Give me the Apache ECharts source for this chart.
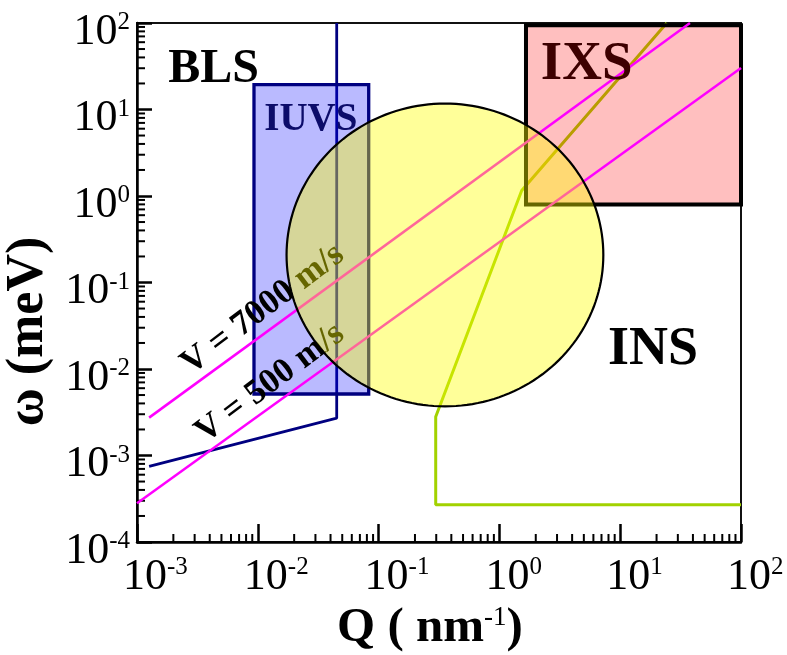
<!DOCTYPE html>
<html>
<head>
<meta charset="utf-8">
<script src="https://cdn.jsdelivr.net/npm/echarts@6/dist/echarts.min.js"></script>
<style>
  html, body { margin: 0; padding: 0; background: #fff; }
  #chart { width: 787px; height: 655px; }
</style>
</head>
<body>
<div id="chart"></div>
<script>
// axis ranges: Q in nm^-1, omega in meV
const qRange = [0.001, 100]
const wRange = [0.0001, 100]
const minorSteps = [2, 3, 4, 5, 6, 7, 8, 9]
const qDecades = [0.001, 0.01, 0.1, 1, 10]
const wDecades = [0.0001, 0.001, 0.01, 0.1, 1, 10]

// boundaries, [Q, omega]
const blsEdge = [[0.045, 100], [0.045, 0.0027], [0.00126, 0.00075]]
const insEdge = [[100, 0.00027], [0.297, 0.00027], [0.297, 0.0028], [1.53, 1.16], [24.3, 100]]
const v7000 = [[0.00126, 0.00274], [37.8, 100]]
const v500 = [[0.001, 0.00028], [100, 30.2]]

// regions [Qmin, Qmax, wMin, wMax]
const iuvsBox = [0.0093, 0.0828, 0.00514, 19.4]
const ixsBox = [1.66, 100, 0.796, 94]
const insDisc = [0.0173, 7.25, 0.0037, 11.7]

// annotation anchors [Q, omega]
const regionNames = ['BLS', 'IUVS', 'IXS', 'INS']
const regionAt = [[0.0043, 29.2], [0.0275, 7.6], [5.28, 33.3], [18.7, 0.0164]]
const speedNames = ['V = 7000 m/s', 'V = 500 m/s']
const speedAt = [[0.011, 0.049], [0.0126, 0.00684]]

const serif = '"Liberation Serif", "Times New Roman", serif'
const regionStyle = [
  { size: 48, color: '#000' },
  { size: 39, color: '#0c0c6a' },
  { size: 55, color: '#3d0000' },
  { size: 54, color: '#000' }
]

let qMinor = []
qDecades.forEach(d => minorSteps.forEach(k => qMinor.push(d * k)))
let wMinor = []
wDecades.forEach(d => minorSteps.forEach(k => wMinor.push(d * k)))

function expOf (v) {
  return String(Math.round(Math.log10(v)))
}

const tickRich = {
  h: { fontSize: 25, fontFamily: serif, color: 'transparent', lineHeight: 20, verticalAlign: 'top' },
  b: { fontSize: 44, fontFamily: serif, color: '#000', lineHeight: 44 },
  s: { fontSize: 25, fontFamily: serif, color: '#000', lineHeight: 20, verticalAlign: 'top' }
}

function boxSeries (box, z, fill, stroke, width) {
  return {
    type: 'custom',
    z: z,
    silent: true,
    encode: { x: [0, 1], y: [2, 3] },
    data: [box],
    renderItem (params, api) {
      const a = api.coord([api.value(0), api.value(3)])
      const b = api.coord([api.value(1), api.value(2)])
      return {
        type: 'rect',
        shape: { x: a[0], y: a[1], width: b[0] - a[0], height: b[1] - a[1] },
        style: { fill: fill, stroke: stroke, lineWidth: width }
      }
    }
  }
}

function lineSeries (data, color, width, z) {
  return {
    type: 'line',
    z: z,
    silent: true,
    showSymbol: false,
    symbol: 'none',
    data: data,
    lineStyle: { color: color, width: width }
  }
}

function textSeries (anchors, z, build) {
  return {
    type: 'custom',
    z: z,
    silent: true,
    clip: false,
    data: anchors,
    renderItem (params, api) {
      const p = api.coord([api.value(0), api.value(1)])
      return build(params.dataIndex, p)
    }
  }
}

const chart = echarts.init(document.getElementById('chart'))

chart.setOption({
  animation: false,
  grid: {
    left: 137, right: 46, top: 23, bottom: 113,
    outerBoundsMode: 'none',
    show: true, borderColor: '#111', borderWidth: 2
  },
  xAxis: {
    type: 'log', logBase: 10, min: qRange[0], max: qRange[1], splitNumber: 5,
    axisLine: { lineStyle: { color: '#000', width: 2.5 } },
    axisTick: { inside: true, length: 18, lineStyle: { color: '#000', width: 2.5 } },
    splitLine: { show: false },
    axisLabel: {
      margin: 13, showMinLabel: true, showMaxLabel: true,
      padding: [0, 0, 0, 16],
      formatter: v => '{h|' + expOf(v) + '}{b|10}{s|' + expOf(v) + '}',
      rich: tickRich
    },
    name: '{b|Q ( nm}{s|-1}{b|)}',
    nameLocation: 'middle', nameGap: 58,
    nameTextStyle: {
      padding: [0, 18, 0, 0],
      rich: {
        b: { fontSize: 49, fontWeight: 'bold', fontFamily: serif, color: '#000', lineHeight: 48 },
        s: { fontSize: 27, fontFamily: serif, color: '#000', lineHeight: 22, verticalAlign: 'top' }
      }
    }
  },
  yAxis: {
    type: 'log', logBase: 10, min: wRange[0], max: wRange[1], splitNumber: 6,
    axisLine: { lineStyle: { color: '#000', width: 2.5 } },
    axisTick: { inside: true, length: 15, lineStyle: { color: '#000', width: 2.5 } },
    splitLine: { show: false },
    axisLabel: {
      margin: 7, showMinLabel: true, showMaxLabel: true,
      padding: [18, 0, 0, 0],
      formatter: v => '{b|10}{s|' + expOf(v) + '}',
      rich: tickRich
    },
    name: 'ω (meV)',
    nameLocation: 'middle', nameGap: 78, nameRotate: 90,
    nameTextStyle: {
      fontSize: 52, fontWeight: 'bold', fontFamily: serif, color: '#000',
      padding: [0, 98, 0, 0]
    }
  },
  series: [
    // minor ticks at 2..9 of every decade
    {
      type: 'custom', z: 1, silent: true, clip: false,
      data: qMinor.map(q => [q, 1]),
      renderItem (params, api) {
        const x = api.coord([api.value(0), 1])[0]
        const yb = params.coordSys.y + params.coordSys.height
        return { type: 'line', shape: { x1: x, y1: yb, x2: x, y2: yb - 8 }, style: { stroke: '#000', lineWidth: 2 } }
      }
    },
    {
      type: 'custom', z: 1, silent: true, clip: false,
      data: wMinor.map(w => [1, w]),
      renderItem (params, api) {
        const y = api.coord([1, api.value(1)])[1]
        const xl = params.coordSys.x
        return { type: 'line', shape: { x1: xl, y1: y, x2: xl + 8, y2: y }, style: { stroke: '#000', lineWidth: 2 } }
      }
    },
    lineSeries(insEdge, '#a2d200', 3, 2),
    lineSeries(blsEdge, '#000080', 2.8, 2),
    boxSeries(ixsBox, 3, 'rgba(255,0,0,0.25)', '#000', 4),
    boxSeries(iuvsBox, 3, 'rgba(0,0,255,0.27)', '#000080', 3.3),
    lineSeries(v7000, '#ff00ff', 2.5, 4),
    lineSeries(v500, '#ff00ff', 2.5, 4),
    textSeries(speedAt, 5, (i, p) => ({
      type: 'text', x: p[0], y: p[1], rotation: 37 * Math.PI / 180,
      style: {
        text: speedNames[i], fill: '#000', font: 'bold 35px ' + serif,
        align: 'center', verticalAlign: 'middle'
      }
    })),
    // yellow INS disc, drawn over everything below it
    {
      type: 'custom', z: 6, silent: true,
      encode: { x: [0, 1], y: [2, 3] },
      data: [insDisc],
      renderItem (params, api) {
        const a = api.coord([api.value(0), api.value(3)])
        const b = api.coord([api.value(1), api.value(2)])
        const cx = (a[0] + b[0]) / 2
        const cy = (a[1] + b[1]) / 2
        const rx = (b[0] - a[0]) / 2
        const ry = (b[1] - a[1]) / 2
        const pts = []
        for (let i = 0; i < 180; i++) {
          const t = i / 180 * Math.PI * 2
          pts.push([cx + rx * Math.cos(t), cy + ry * Math.sin(t)])
        }
        return {
          type: 'polygon',
          shape: { points: pts },
          style: { fill: 'rgba(255,255,0,0.4)', stroke: '#000', lineWidth: 2.2 }
        }
      }
    },
    textSeries(regionAt, 7, (i, p) => ({
      type: 'text', x: p[0], y: p[1],
      style: {
        text: regionNames[i], fill: regionStyle[i].color,
        font: 'bold ' + regionStyle[i].size + 'px ' + serif,
        align: 'center', verticalAlign: 'middle'
      }
    }))
  ]
})
</script>
</body>
</html>
